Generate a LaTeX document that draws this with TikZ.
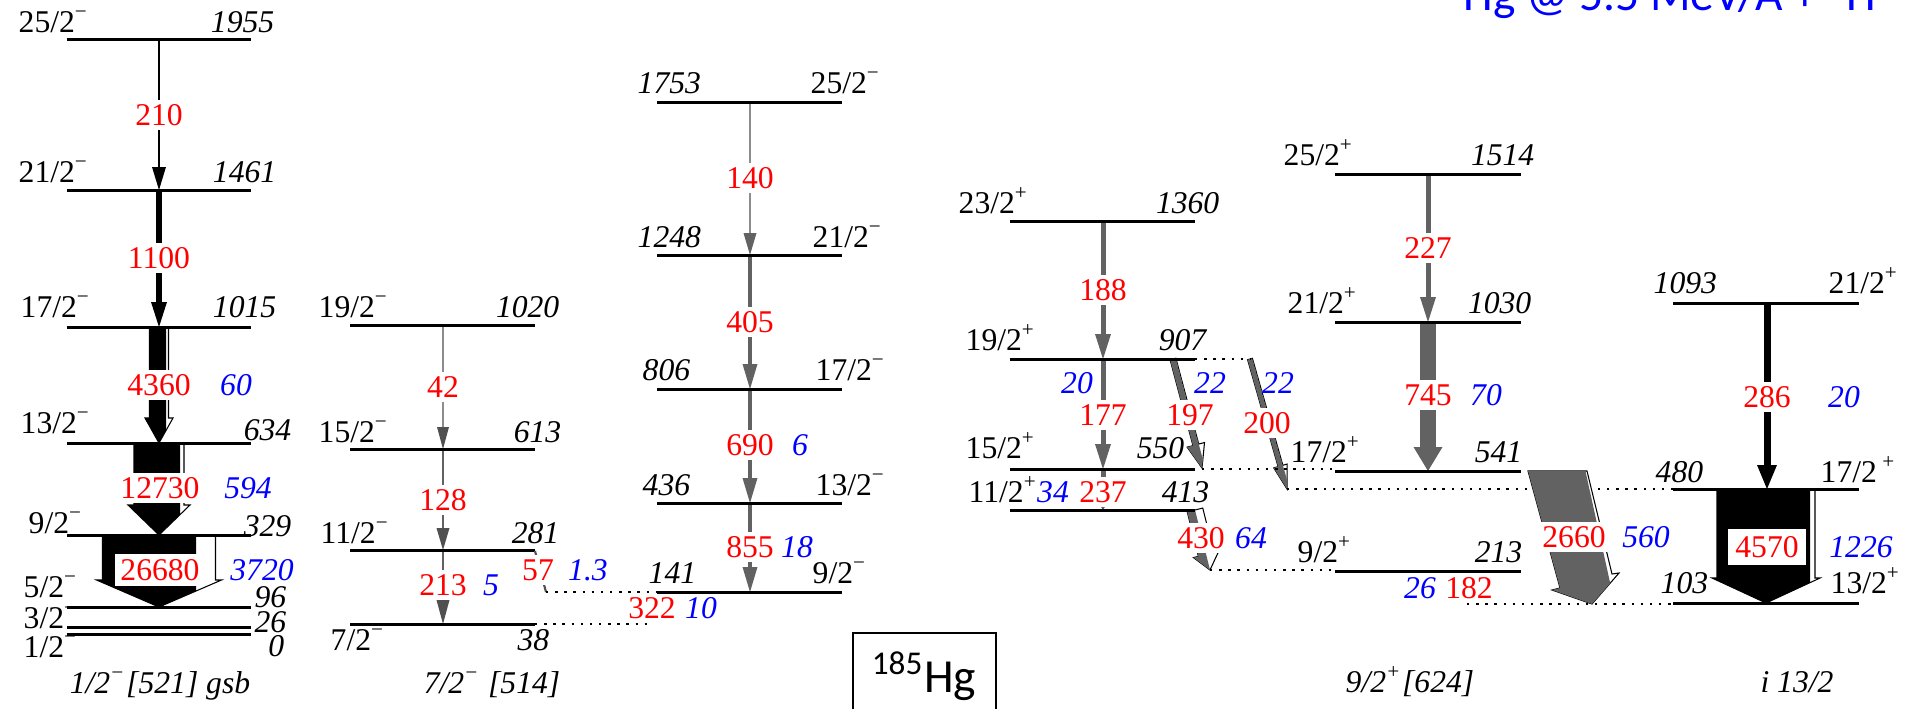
\documentclass[tikz,border=0pt]{standalone}
\usepackage{fontspec}
\setmainfont{Liberation Serif}
\newfontfamily\calfont{Carlito}
\definecolor{garr}{RGB}{98,98,98}
\definecolor{gthin}{RGB}{140,140,140}
\definecolor{ghead}{RGB}{80,80,80}
\newcommand\lbl{\fontsize{9}{10}\selectfont}
% simple vertical arrow: x ytop ybot shaftw headw headl shaftcol headcol
\newcommand\varrow[8]{%
 \fill[#7] ({#1-(#4)/2},{#2}) rectangle ({#1+(#4)/2},{#3-(#6)+0.5});
 \fill[#8] ({#1-(#5)/2},{#3-(#6)}) -- ({#1+(#5)/2},{#3-(#6)}) -- ({#1},{#3}) -- cycle;}
% arrow with white (conversion) part: x ytop ybot shaftw headw headl splitx col
\newcommand\iarrowpath[6]{({#1-(#4)/2},{#2}) -- ({#1+(#4)/2},{#2}) -- ({#1+(#4)/2},{#3-(#6)}) -- ({#1+(#5)/2},{#3-(#6)}) -- ({#1},{#3}) -- ({#1-(#5)/2},{#3-(#6)}) -- ({#1-(#4)/2},{#3-(#6)}) -- cycle}
\newcommand\iarrow[8]{%
 \path[fill=white,draw=black,line width=0.3pt] \iarrowpath{#1}{#2}{#3}{#4}{#5}{#6};
 \begin{scope}\clip ({#1-300},{#2-5}) rectangle ({#7},{#3+5});
 \fill[#8] \iarrowpath{#1}{#2}{#3}{#4}{#5}{#6};\end{scope}}
\tikzset{
 lev/.style={line width=0.85pt},
 dotl/.style={line width=0.45pt, dash pattern=on 0.7pt off 1.9pt},
 sp/.style={inner sep=0pt, font=\lbl},
 en/.style={inner sep=0pt, font=\lbl\itshape},
 eg/.style={text=red, fill=white, inner sep=1.2pt, font=\lbl},
 ib/.style={text=blue, inner sep=0pt, font=\lbl\itshape},
 band/.style={inner sep=0pt, font=\lbl\itshape},
}
\begin{document}
\begin{tikzpicture}[x=0.01cm,y=-0.01cm]
\useasboundingbox (0,0) rectangle (1905,708);
\clip (0,0) rectangle (1905,708);
\fill[white] (0,0) rectangle (1905,708);

% ---------------- band 1 : 1/2-[521] gsb
\varrow{159}{39}{190}{2}{14}{23}{black}{black}
\varrow{159}{190}{327}{5.5}{16}{25}{black}{black}
\iarrow{159}{327}{443}{19}{28}{25}{166}{black}
\iarrow{159}{443}{535}{50}{62}{30}{180}{black}
\iarrow{159}{535}{607}{113}{125}{27}{196}{black}
\foreach \y in {39,190,327,443,535,607,627,634} \draw[lev] (67,\y) -- (251,\y);
\node[sp,anchor=base west] (a1) at (18,32) {25/2\textsuperscript{−}};
\node[en,anchor=base east] (a2) at (275,32) {1955};
\node[sp,anchor=base west] (a3) at (18,182) {21/2\textsuperscript{−}};
\node[en,anchor=base east] (a4) at (277,182) {1461};
\node[sp,anchor=base west] (a5) at (20,317) {17/2\textsuperscript{−}};
\node[en,anchor=base east] (a6) at (277,317) {1015};
\node[sp,anchor=base west] (a7) at (20,433) {13/2\textsuperscript{−}};
\node[en,anchor=base east] (a8) at (292,440) {634};
\node[sp,anchor=base west] (a9) at (28,533) {9/2\textsuperscript{−}};
\node[en,anchor=base east] (a10) at (292,536) {329};
\node[sp,anchor=base west] (a11) at (23,597) {5/2\textsuperscript{−}};
\node[en,anchor=base east] (a12) at (287,607) {96};
\node[sp,anchor=base west] (a13) at (23,628) {3/2\textsuperscript{−}};
\node[en,anchor=base east] (a14) at (287,632) {26};
\node[sp,anchor=base west] (a15) at (23,657) {1/2\textsuperscript{−}};
\node[en,anchor=base east] (a16) at (285,656) {0};
\node[band,anchor=base] (a17) at (160,693) {1/2\textsuperscript{−}[521] gsb};
\node[eg] (g210) at (159,115) {210};
\node[eg] (g1100) at (159,258) {1100};
\node[eg] (g4360) at (159,385) {4360};
\node[ib] (i60) at (236,385) {60};
\node[eg] (g12730) at (160,488) {12730};
\node[ib] (i594) at (248,488) {594};
\node[eg,inner sep=1.5pt] (g26680) at (160,570) {26680};
\node[ib] (i3720) at (262,570) {3720};

% ---------------- band 2 : 7/2-[514]
\varrow{443}{325}{449}{1.3}{12}{22}{gthin}{ghead}
\varrow{443}{449}{550}{2.5}{13}{22}{garr}{ghead}
\varrow{443}{550}{624}{2.8}{13}{24}{garr}{ghead}
\foreach \y in {325,449,550,624} \draw[lev] (350,\y) -- (535,\y);
\node[sp,anchor=base west] (b1) at (318,317) {19/2\textsuperscript{−}};
\node[en,anchor=base east] (b2) at (560,317) {1020};
\node[sp,anchor=base west] (b3) at (318,442) {15/2\textsuperscript{−}};
\node[en,anchor=base east] (b4) at (562,442) {613};
\node[sp,anchor=base west] (b5) at (320,543) {11/2\textsuperscript{−}};
\node[en,anchor=base east] (b6) at (560,543) {281};
\node[sp,anchor=base west] (b7) at (330,650) {7/2\textsuperscript{−}};
\node[en,anchor=base east] (b8) at (550,650) {38};
\node[band,anchor=base] (b9) at (492,693) {7/2\textsuperscript{−} [514]};
\node[eg] (g42) at (443,387) {42};
\node[eg] (g128) at (443,500) {128};
\node[eg] (g213) at (443,585) {213};
\node[ib] (i5) at (491,585) {5};
% 57 and 322 links
\coordinate (c57a) at (535,551);
\coordinate (c57b) at (546,592);
\draw[line width=0.6pt,ghead] (c57a) -- (c57b);
\node[eg] (g57) at (538,570) {57};
\node[ib] (i13) at (588,570) {1.3};
\coordinate (c141l) at (657,592);
\draw[dotl] (c57b) -- (c141l);
\coordinate (c38r) at (535,624);
\coordinate (c322) at (652,624);
\draw[dotl] (c38r) -- (c322);

% ---------------- band 3
\varrow{750}{102}{255}{1.3}{13}{22}{gthin}{garr}
\varrow{750}{255}{389}{3.5}{15}{25}{garr}{garr}
\varrow{750}{389}{503}{3.5}{15}{25}{garr}{garr}
\varrow{750}{503}{592}{3.5}{15}{25}{garr}{garr}
\foreach \y in {102,255,389,503,592} \draw[lev] (657,\y) -- (842,\y);
\node[en,anchor=base west] (c1) at (637,93) {1753};
\node[sp,anchor=base west] (c2) at (810,93) {25/2\textsuperscript{−}};
\node[en,anchor=base west] (c3) at (637,247) {1248};
\node[sp,anchor=base west] (c4) at (812,247) {21/2\textsuperscript{−}};
\node[en,anchor=base west] (c5) at (642,380) {806};
\node[sp,anchor=base west] (c6) at (815,380) {17/2\textsuperscript{−}};
\node[en,anchor=base west] (c7) at (642,495) {436};
\node[sp,anchor=base west] (c8) at (815,495) {13/2\textsuperscript{−}};
\node[en,anchor=base west] (c9) at (648,583) {141};
\node[sp,anchor=base west] (c10) at (812,583) {9/2\textsuperscript{−}};
\node[eg] (g140) at (750,178) {140};
\node[eg] (g405) at (750,322) {405};
\node[eg] (g690) at (750,445) {690};
\node[ib] (i6) at (800,445) {6};
\node[eg] (g855) at (750,547) {855};
\node[ib] (i18) at (797,547) {18};
\node[eg,fill=none] (g322) at (652,608) {322};
\node[ib] (i10) at (701,608) {10};

% ---------------- 185Hg box
\draw[line width=0.8pt] (853,633) rectangle (996,740);
\node[inner sep=0pt,font=\calfont\fontsize{13.5}{15}\selectfont] (hg) at (924,676) {\textsuperscript{185}Hg};

% ---------------- band 4 : 9/2+[624] left part
\varrow{1103}{221}{359}{5}{16}{25}{garr}{garr}
\varrow{1103}{359}{469}{5}{16}{25}{garr}{garr}
\varrow{1103}{469}{510}{5}{10}{8}{garr}{garr}
\begin{scope}[shift={(1173,359)},rotate=14.9]
 \iarrow{0}{0}{112.8}{6}{18}{24}{3}{garr}
\end{scope}
\begin{scope}[shift={(1250,359)},rotate=15.9]
 \iarrow{0}{0}{135.2}{5}{14}{24}{2.5}{garr}
\end{scope}
\begin{scope}[shift={(1195,510)},rotate=14.04]
 \iarrow{0}{0}{61.8}{16}{26}{16}{0}{garr}
\end{scope}
\foreach \y in {221,359,469,510} \draw[lev] (1010,\y) -- (1195,\y);
\coordinate (d907r) at (1195,359);
\coordinate (d200a) at (1250,359);
\draw[dotl] (d907r) -- (d200a);
\coordinate (d197e) at (1202,469);
\coordinate (e541l) at (1335,469);
\draw[dotl] (d197e) -- (e541l);
\coordinate (d200e) at (1287,489);
\coordinate (f480l) at (1673,489);
\draw[dotl] (d200e) -- (f480l);
\coordinate (d430e) at (1210,570);
\coordinate (e213l) at (1335,570);
\draw[dotl] (d430e) -- (e213l);
\node[sp,anchor=base west] (d1) at (958,213) {23/2\textsuperscript{+}};
\node[en,anchor=base east] (d2) at (1220,213) {1360};
\node[sp,anchor=base west] (d3) at (965,350) {19/2\textsuperscript{+}};
\node[en,anchor=base east] (d4) at (1207,350) {907};
\node[sp,anchor=base west] (d5) at (965,458) {15/2\textsuperscript{+}};
\node[en,anchor=base east] (d6) at (1185,458) {550};
\node[sp,anchor=base west] (d7) at (968,502) {11/2\textsuperscript{+}};
\node[en,anchor=base east] (d8) at (1210,502) {413};
\node[eg] (g188) at (1103,290) {188};
\node[ib] (i20a) at (1077,383) {20};
\node[eg] (g177) at (1103,415) {177};
\node[ib] (i22a) at (1210,383) {22};
\node[eg] (g197) at (1190,415) {197};
\node[ib] (i22b) at (1278,383) {22};
\node[eg] (g200) at (1267,423) {200};
\node[ib] (i34) at (1053,492) {34};
\node[eg] (g237) at (1103,492) {237};
\node[eg] (g430) at (1201,538) {430};
\node[ib] (i64) at (1251,538) {64};

% ---------------- band 5
\varrow{1428}{174}{322}{5}{16}{25}{garr}{garr}
\varrow{1428}{322}{471}{16}{29}{24}{garr}{garr}
% 2660 slanted big arrow
\path[fill=white,draw=black,line width=0.3pt] (1528,471) -- (1587,471) -- (1612,574) -- (1619,573) -- (1592,604) -- (1552,590) -- (1560,588) -- cycle;
\begin{scope}
 \clip (1500,460) -- (1583,460) -- (1615,605) -- (1500,615) -- cycle;
 \fill[garr] (1528,471) -- (1587,471) -- (1612,574) -- (1619,573) -- (1592,604) -- (1552,590) -- (1560,588) -- cycle;
\end{scope}
\foreach \y in {174,322,471,571} \draw[lev] (1335,\y) -- (1521,\y);
\coordinate (e182s) at (1467,604);
\coordinate (f103l) at (1673,604);
\draw[dotl] (e182s) -- (f103l);
\node[sp,anchor=base west] (e1) at (1283,165) {25/2\textsuperscript{+}};
\node[en,anchor=base east] (e2) at (1535,165) {1514};
\node[sp,anchor=base west] (e3) at (1287,313) {21/2\textsuperscript{+}};
\node[en,anchor=base east] (e4) at (1532,313) {1030};
\node[sp,anchor=base west] (e5) at (1290,462) {17/2\textsuperscript{+}};
\node[en,anchor=base east] (e6) at (1523,462) {541};
\node[sp,anchor=base west] (e7) at (1297,562) {9/2\textsuperscript{+}};
\node[en,anchor=base east] (e8) at (1523,562) {213};
\node[eg] (g227) at (1428,248) {227};
\node[eg] (g745) at (1428,395) {745};
\node[ib] (i70) at (1486,395) {70};
\node[ib] (i26) at (1420,588) {26};
\node[eg,fill=none] (g182) at (1469,588) {182};
\node[eg] (g2660) at (1574,537) {2660};
\node[ib] (i560) at (1646,537) {560};
\node[band,anchor=base] (e9) at (1410,692) {9/2\textsuperscript{+}[624]};

% ---------------- band 6 : i13/2
\varrow{1767}{303}{489}{7}{20}{24}{black}{black}
\iarrow{1766}{489}{603}{98}{108}{25}{1810}{black}
\foreach \y in {303,489,603} \draw[lev] (1673,\y) -- (1859,\y);
\node[en,anchor=base west] (f1) at (1653,293) {1093};
\node[sp,anchor=base west] (f2) at (1828,293) {21/2\textsuperscript{+}};
\node[en,anchor=base west] (f3) at (1655,482) {480};
\node[sp,anchor=base west] (f4) at (1820,482) {17/2\,\textsuperscript{+}};
\node[en,anchor=base west] (f5) at (1660,593) {103};
\node[sp,anchor=base west] (f6) at (1830,593) {13/2\textsuperscript{+}};
\node[eg] (g286) at (1767,397) {286};
\node[ib] (i20b) at (1844,397) {20};
\node[eg,inner sep=2pt] (g4570) at (1767,547) {4570};
\node[ib] (i1226) at (1861,547) {1226};
\node[band,anchor=base] (f7) at (1797,692) {i 13/2};

% ---------------- title (cut at top)
\node[inner sep=0pt,anchor=base east,text=blue,font=\calfont\fontsize{13.5}{15}\selectfont] (title) at (1877,10) {\textsuperscript{185}Hg @ 5.5 MeV/A + \textsuperscript{2}H};
\end{tikzpicture}
\end{document}
